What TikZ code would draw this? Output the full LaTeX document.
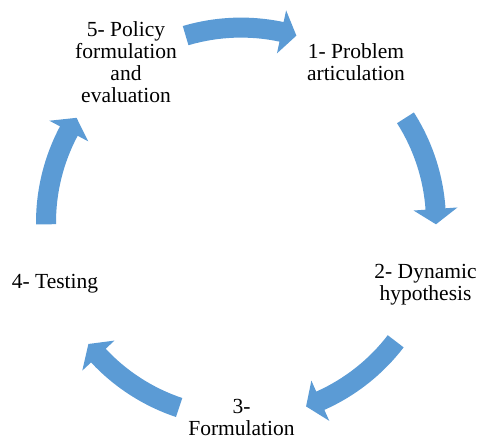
\documentclass[tikz,border=0pt]{standalone}
\usepackage{fontspec}
\setmainfont{Liberation Serif}
\definecolor{cycleblue}{HTML}{5B9BD5}
\tikzset{
    steptext/.style={align=center, font=\fontsize{21.5}{22}\selectfont, inner sep=0pt},
    cyclearrow/.style={fill=cycleblue, draw=none},
}
\begin{document}
\begin{tikzpicture}[x=1pt, y=1pt]
            \useasboundingbox (0, 0) rectangle (477, 439);
            \node[steptext] (problem) at (356, 377.3) {1- Problem\\articulation};
            \node[steptext] (hypothesis) at (425.5, 154.7) {2- Dynamic\\hypothesis};
            \node[steptext] (formulation) at (241.5, 22) {3-\\Formulation};
            \node[steptext] (testing) at (55, 155.5) {4- Testing};
            \node[steptext] (policy) at (126, 377.3) {5- Policy\\formulation\\and\\evaluation};
            \begin{scope}[shift={(241, 216.4)}]
                \foreach \a in {90, 16, -54, -125, 164} {
                    \pgfmathsetmacro{\ta}{\a + 16.5}
                    \pgfmathsetmacro{\hb}{\a - 12}
                    \pgfmathsetmacro{\tp}{\a - 16.5}
                    \fill[cyclearrow] (\ta:205pt) arc[start angle=\ta, end angle=\hb, radius=205pt]
                        -- (\hb:217pt) -- (\tp:195pt) -- (\hb:173pt) -- (\hb:185pt)
                        arc[start angle=\hb, end angle=\ta, radius=185pt] -- cycle;
                }
            \end{scope}
        \end{tikzpicture}
\end{document}
